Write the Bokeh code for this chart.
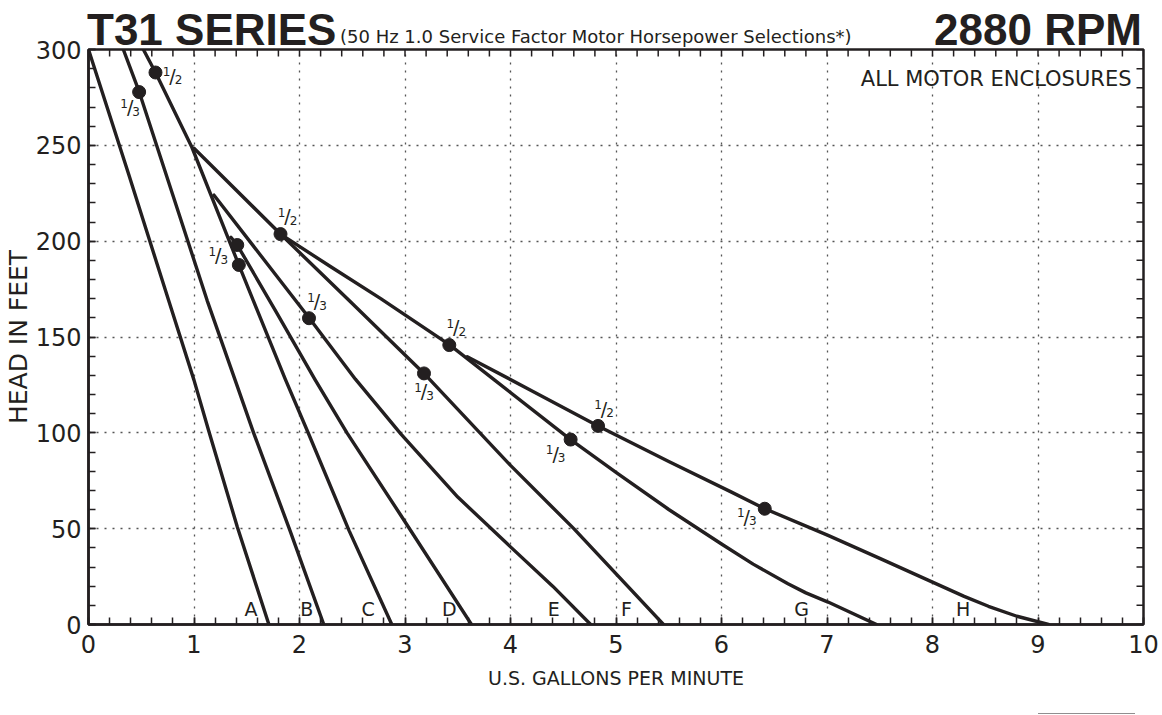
import math
from bokeh.plotting import figure
from bokeh.layouts import column
from bokeh.models import Range1d, SingleIntervalTicker, ColumnDataSource, Div
from bokeh.embed import file_html
from bokeh.resources import INLINE
from bokeh.core.properties import value

# ---------------- data ----------------
A_q = [0.0, 0.38, 0.76, 1.0, 1.14, 1.41, 1.71]
A_h = [300, 235, 169, 127.5, 101, 51, 0]
B_q = [0.33, 0.48, 0.80, 1.125, 1.39, 1.565, 1.91, 2.23]
B_h = [300, 278, 224, 169, 127.5, 100, 49, 0]
C_q = [0.52, 0.635, 0.98, 1.425, 1.865, 2.09, 2.47, 2.875]
C_h = [300, 288, 249, 187.6, 128, 99, 49, 0]
D_q = [1.35, 1.41, 1.78, 2.15, 2.45, 2.96, 3.63]
D_h = [202, 198, 163, 127.5, 100, 57, 0]
E_q = [1.19, 1.64, 2.09, 2.53, 2.96, 3.5, 4.0, 4.4, 4.76]
E_h = [224, 192, 160, 128, 99.5, 66.5, 40.5, 20, 0]
F_q = [1.0, 1.82, 2.5, 3.18, 4.0, 4.6, 5.45]
F_h = [248.5, 203.7, 167.5, 131, 83, 50, 0]
G_q = [1.82, 2.3, 2.77, 3.42, 3.85, 4.57, 5.01, 5.5, 6.0, 6.3, 6.63, 6.8, 7.01, 7.47]
G_h = [203.7, 186.5, 170, 146, 127.5, 96.5, 79, 60, 42, 31.5, 21.3, 16.5, 11.7, 0]
H_q = [3.59, 4.2, 4.83, 5.5, 6.09, 6.41, 7.01, 7.5, 8.0, 8.3, 8.53, 8.8, 9.1]
H_h = [139.7, 122, 103.6, 85, 69.2, 60.4, 46.5, 34.5, 22.1, 14.7, 9.5, 4.3, 0]

dot_q = [0.48, 0.635, 1.41, 1.425, 1.82, 2.09, 3.42, 3.18, 4.57, 4.83, 6.41]
dot_h = [277.8, 288, 198, 187.6, 203.7, 159.8, 145.8, 131, 96.5, 103.6, 60.4]

frac_q = [0.48, 0.635, 1.41, 1.82, 2.09, 3.42, 3.18, 4.57, 4.83, 6.41]
frac_h = [277.8, 288, 198, 203.7, 159.8, 145.8, 131, 96.5, 103.6, 60.4]
frac_den = ["3", "2", "3", "2", "3", "2", "3", "3", "2", "3"]

model_names = ["A", "B", "C", "D", "E", "F", "G", "H"]
model_label_q = [1.54, 2.07, 2.65, 3.42, 4.41, 5.10, 6.76, 8.29]
model_label_h = [8.2, 8.2, 8.2, 8.2, 8.2, 8.2, 8.2, 8.2]

title_main = "T31 SERIES"
title_sub = "(50 Hz 1.0 Service Factor Motor Horsepower Selections*)"
title_rpm = "2880 RPM"
note_text = "ALL MOTOR ENCLOSURES"
x_title = "U.S. GALLONS PER MINUTE"
y_title = "HEAD IN FEET"

# ---------------- styles ----------------
frac_dx = [-9, 17, -19, 7, 8, 7, 0, -15, 6, -18]
frac_dy = [15, 3, 10, -18, -17, -18, 18, 14, -17, 8]

FONT = "DejaVu Sans"
BOLD = "Liberation Sans"
INK = "#231f20"
W = 1162
HEAD_H = 47
OVERLAP = 20
MAIN_H = 678
FOOT_H = 9

# ---------------- header (HTML text) ----------------
header_html = (
    f"<div style=\"position:relative;width:{W}px;height:{HEAD_H}px;overflow:visible;\">"
    f"<span style=\"position:absolute;left:87px;top:8px;white-space:nowrap;"
    f"font-family:'{BOLD}';font-weight:bold;font-size:44px;line-height:44px;color:{INK};\">"
    f"{title_main}</span>"
    f"<span style=\"position:absolute;left:340px;top:28px;white-space:nowrap;"
    f"font-family:'{FONT}';font-size:18px;line-height:18px;color:{INK};\">"
    f"{title_sub}</span>"
    f"<span style=\"position:absolute;right:{W - 1142}px;top:8px;white-space:nowrap;"
    f"font-family:'{BOLD}';font-weight:bold;font-size:44px;line-height:44px;color:{INK};\">"
    f"{title_rpm}</span>"
    f"</div>"
)
head = Div(text=header_html, width=W, height=HEAD_H, margin=(0, 0, -OVERLAP, 0))

# ---------------- main chart ----------------
p = figure(width=W, height=MAIN_H, output_backend="svg", toolbar_location=None, title=None,
           x_range=Range1d(0, 10), y_range=Range1d(0, 300),
           min_border_left=88, min_border_right=19,
           min_border_top=49 - (HEAD_H - OVERLAP), min_border_bottom=81,
           x_axis_label=x_title, y_axis_label=y_title)
p.background_fill_color = "white"
p.border_fill_color = None
p.outline_line_color = INK
p.outline_line_width = 2.5


def style_axis(ax):
    ax.axis_line_color = INK
    ax.axis_line_width = 2.5
    ax.major_tick_in = 7
    ax.major_tick_out = 0
    ax.minor_tick_in = 7
    ax.minor_tick_out = 0
    ax.major_tick_line_color = INK
    ax.minor_tick_line_color = INK
    ax.major_tick_line_width = 1.5
    ax.minor_tick_line_width = 1.5
    ax.major_label_text_font = FONT
    ax.major_label_text_color = INK
    ax.major_label_text_font_size = "24px"
    ax.axis_label_text_font = FONT
    ax.axis_label_text_font_style = "normal"
    ax.axis_label_text_color = INK


p.xaxis[0].ticker = SingleIntervalTicker(interval=1, num_minor_ticks=5)
p.yaxis[0].ticker = SingleIntervalTicker(interval=50, num_minor_ticks=5)
style_axis(p.xaxis[0])
style_axis(p.yaxis[0])
p.xaxis[0].axis_label_text_font_size = "19px"
p.yaxis[0].axis_label_text_font_size = "25px"
p.xaxis[0].major_label_standoff = 10
p.yaxis[0].major_label_standoff = 7
p.xaxis[0].axis_label_standoff = 11
p.yaxis[0].axis_label_standoff = 0

for g in (p.xgrid[0], p.ygrid[0]):
    g.grid_line_color = "#555555"
    g.grid_line_dash = "2 6"
    g.grid_line_width = 1.3

# inward ticks on the top and right frame edges
top_ticks = [i / 5 for i in range(51)]
right_ticks = list(range(0, 301, 10))
p.scatter(top_ticks, [300] * len(top_ticks), marker="dash", angle=math.pi / 2, size=14,
          line_color=INK, line_width=1.5)
p.scatter([10] * len(right_ticks), right_ticks, marker="dash", size=14,
          line_color=INK, line_width=1.5)

# pump curves
for q, h in [(A_q, A_h), (B_q, B_h), (C_q, C_h), (D_q, D_h), (E_q, E_h),
             (F_q, F_h), (G_q, G_h), (H_q, H_h)]:
    p.line(q, h, line_color=INK, line_width=3.4, line_join="round", line_cap="round")

p.scatter(dot_q, dot_h, size=13, fill_color=INK, line_color=INK)

p.text(model_label_q, model_label_h, text=model_names, text_font=value(FONT),
       text_font_size="19px", text_align="center", text_baseline="middle", text_color=INK)

src = ColumnDataSource(dict(
    x=frac_q, y=frac_h, den=frac_den, one=["1"] * len(frac_q), sl=["/"] * len(frac_q),
    nx=[d - 6 for d in frac_dx], ny=[d - 4 for d in frac_dy],
    sx=frac_dx, sy=frac_dy,
    dx=[d + 6 for d in frac_dx], dy=[d + 4 for d in frac_dy]))
p.text("x", "y", text="one", x_offset="nx", y_offset="ny", source=src, text_font=value(FONT),
       text_font_size="12px", text_align="center", text_baseline="middle", text_color=INK)
p.text("x", "y", text="sl", x_offset="sx", y_offset="sy", source=src, text_font=value(FONT),
       text_font_size="19px", text_align="center", text_baseline="middle", text_color=INK)
p.text("x", "y", text="den", x_offset="dx", y_offset="dy", source=src, text_font=value(FONT),
       text_font_size="12px", text_align="center", text_baseline="middle", text_color=INK)

p.text([10], [300], text=[note_text], x_offset=-12, y_offset=29, text_font=value(FONT),
       text_font_size="21px", text_color=INK, text_baseline="alphabetic", text_align="right")

# ---------------- footer rule ----------------
foot = figure(width=W, height=FOOT_H, output_backend="svg", toolbar_location=None, title=None,
              x_range=Range1d(0, 10), y_range=Range1d(FOOT_H, 0),
              min_border_left=88, min_border_right=19, min_border_top=0, min_border_bottom=0,
              x_axis_type=None, y_axis_type=None)
foot.outline_line_color = None
foot.grid.visible = False
foot.quad(left=[9.0], right=[9.92], top=[5], bottom=[FOOT_H], fill_color=INK, line_color=None)

layout = column(head, p, foot, spacing=0)
open("out.html", "w").write(file_html(layout, INLINE))
